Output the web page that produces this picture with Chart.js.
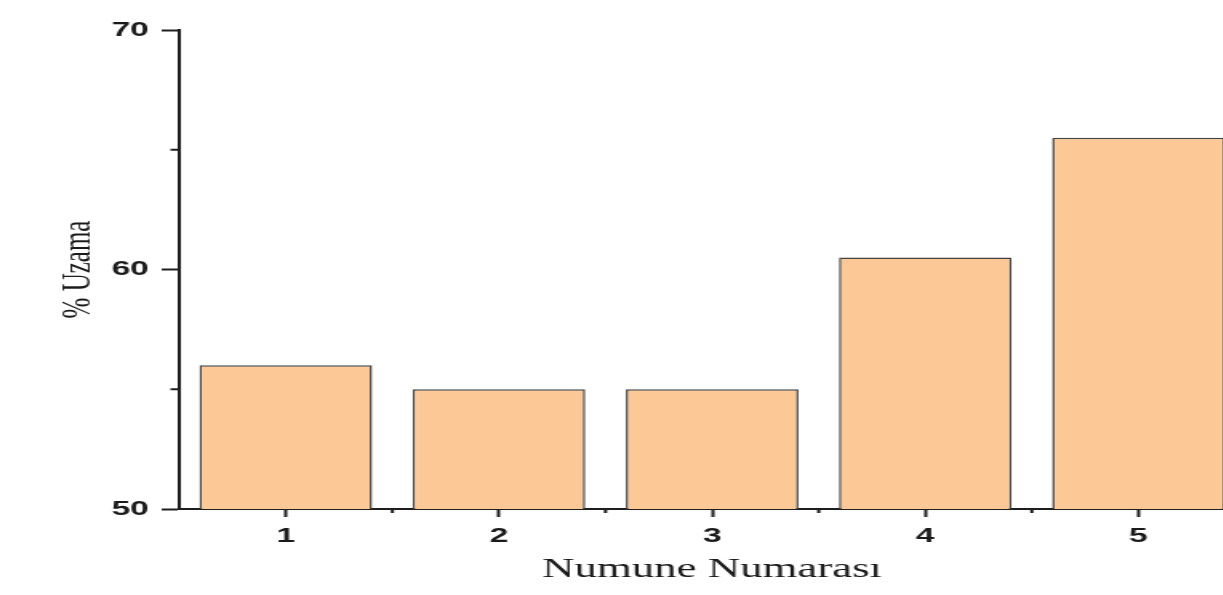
<!DOCTYPE html>
<html>
<head>
<meta charset="utf-8">
<script src="https://cdn.jsdelivr.net/npm/chart.js@4.4.0/dist/chart.umd.min.js"></script>
<style>
  html, body { margin: 0; padding: 0; background: #fff; overflow: hidden; }
  /* el grafico original esta estirado en horizontal */
  #grafica_uzama { display: block; width: 1245px !important; height: 595px !important; }
</style>
</head>
<body>
<canvas id="grafica_uzama" width="778" height="595" style="width:1245px;height:595px"></canvas>
<script>
//Datos
const numuneler = ['1', '2', '3', '4', '5'];
const uzama = [56, 55, 55, 60.5, 65.5];
const yMajorTicks = [50, 60, 70];
const yMinorTicks = [55, 65];

const colorBarra = '#fcc896';
const colorBorde = '#444444';
const colorEje = '#1e1e1e';

//Ticks menores (entre categorias y entre 50-60-70)
const ticksMenores = {
  id: 'ticksMenores',
  afterDraw(chart) {
    const ctx = chart.ctx;
    const x = chart.scales.x;
    const y = chart.scales.y;
    ctx.save();
    ctx.strokeStyle = colorEje;
    ctx.lineWidth = 2;
    ctx.beginPath();
    yMinorTicks.forEach(v => {
      const py = y.getPixelForValue(v);
      ctx.moveTo(x.left - 5.5, py);
      ctx.lineTo(x.left, py);
    });
    for (let i = 1; i < numuneler.length; i++) {
      const px = (x.getPixelForValue(i - 1) + x.getPixelForValue(i)) / 2;
      ctx.moveTo(px, y.bottom);
      ctx.lineTo(px, y.bottom + 4);
    }
    ctx.stroke();
    ctx.restore();
  }
};

const grafica_uzama = document.getElementById('grafica_uzama');

const data_uzama = {
  labels: numuneler,
  datasets: [{
    label: '% Uzama',
    data: uzama,
    backgroundColor: colorBarra,
    borderColor: colorBorde,
    borderWidth: 1.5,
    borderSkipped: false,
    categoryPercentage: 1,
    barPercentage: 0.81
  }]
};

new Chart(grafica_uzama, {
  type: 'bar',
  data: data_uzama,
  plugins: [ticksMenores],
  options: {
    responsive: false,
    animation: false,
    devicePixelRatio: 1,
    layout: { padding: { top: 30, right: 0, left: 0, bottom: 0 } },
    plugins: { legend: { display: false }, tooltip: { enabled: false } },
    scales: {
      x: {
        offset: true,
        grid: { display: true, offset: false, drawOnChartArea: false, drawTicks: true, tickLength: 8, tickWidth: 2, tickColor: colorEje },
        border: { display: true, width: 2, color: colorEje },
        ticks: { color: '#1a1a1a', padding: 7, font: { family: 'Liberation Sans', size: 21, weight: 'bold' } },
        title: {
          display: true,
          text: 'Numune Numarası',
          color: '#1a1a1a',
          font: { family: 'Liberation Serif', size: 28 },
          padding: { top: 0, bottom: 9 }
        },
        afterFit(scale) { scale.height = 86; }
      },
      y: {
        min: 50,
        max: 70,
        afterBuildTicks(scale) { scale.ticks = yMajorTicks.map(v => ({ value: v })); },
        grid: { display: true, drawOnChartArea: false, drawTicks: true, tickLength: 11, tickWidth: 2, tickColor: colorEje },
        border: { display: true, width: 2, color: colorEje },
        ticks: { color: '#1a1a1a', padding: 8, font: { family: 'Liberation Sans', size: 21, weight: 'bold' } },
        title: {
          display: true,
          text: '% Uzama',
          color: '#1a1a1a',
          font: { family: 'Liberation Serif', size: 25 },
          padding: { top: 34, bottom: 0 }
        },
        afterFit(scale) { scale.width = 112; }
      }
    }
  }
});
</script>
</body>
</html>
